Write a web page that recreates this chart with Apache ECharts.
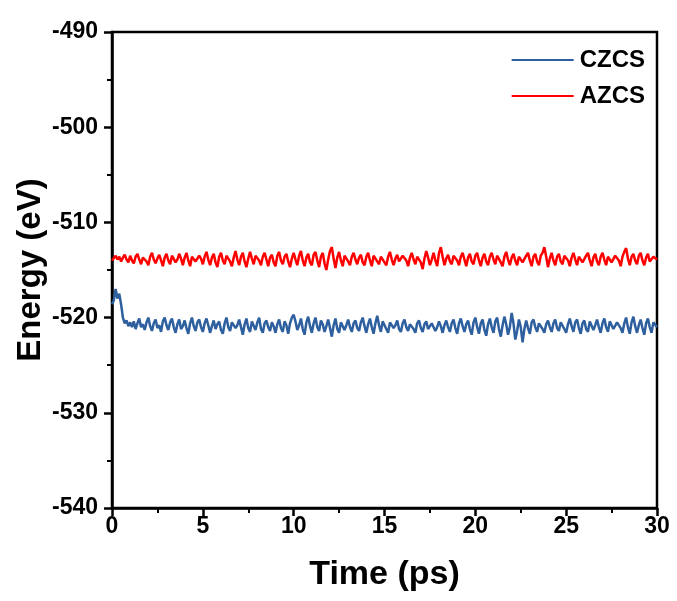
<!DOCTYPE html>
<html>
<head>
<meta charset="utf-8">
<script src="https://cdn.jsdelivr.net/npm/echarts@6/dist/echarts.min.js"></script>
<style>
html,body{margin:0;padding:0;background:#fff;}
#chart{width:677px;height:601px;}
</style>
</head>
<body>
<div id="chart"></div>
<script>
var timeStep = 0.1; // ps between samples
var xTicks = [0, 5, 10, 15, 20, 25, 30];
var yTicks = [-540, -530, -520, -510, -500, -490];
var seriesNames = ['CZCS', 'AZCS'];

var czcs = [
-518.6,-518.2,-517.0,-518.0,-517.5,-518.6,-520.0,-520.6,-520.3,-520.9,
-520.5,-521.0,-520.4,-521.2,-520.6,-520.1,-521.0,-520.7,-521.3,-520.5,
-520.0,-520.9,-521.4,-520.6,-520.2,-521.1,-520.8,-521.5,-520.4,-520.0,
-520.8,-521.3,-520.5,-520.1,-521.0,-521.6,-520.7,-520.2,-521.2,-520.9,
-520.3,-521.1,-521.7,-520.6,-520.0,-520.9,-521.4,-520.5,-520.2,-521.0,
-521.5,-520.6,-520.1,-520.8,-521.6,-520.9,-520.3,-521.2,-520.7,-520.4,
-521.3,-521.7,-520.6,-520.0,-521.0,-521.4,-520.5,-520.3,-521.1,-520.8,
-520.2,-521.0,-521.8,-520.7,-520.1,-521.1,-521.5,-520.4,-520.6,-521.3,
-520.5,-520.0,-521.2,-521.6,-520.6,-520.3,-521.0,-521.4,-520.5,-520.9,
-521.6,-520.7,-520.2,-521.1,-521.5,-520.4,-520.8,-521.7,-520.6,-520.0,
-519.7,-520.4,-521.3,-520.8,-520.1,-521.2,-521.8,-520.5,-519.9,-520.9,
-521.6,-520.6,-520.0,-521.0,-521.4,-520.3,-520.7,-521.5,-520.9,-520.2,
-521.1,-522.0,-520.8,-520.1,-521.2,-521.6,-520.5,-520.4,-521.3,-520.8,
-520.2,-521.0,-521.5,-520.6,-520.3,-521.1,-521.4,-520.5,-520.0,-520.9,
-521.6,-520.7,-520.1,-521.0,-521.7,-520.6,-519.8,-520.8,-521.5,-520.4,
-520.2,-521.2,-521.6,-520.5,-520.4,-521.1,-520.8,-520.3,-521.2,-521.5,
-520.6,-520.2,-521.0,-521.4,-520.7,-520.5,-521.2,-521.6,-520.6,-520.3,
-521.1,-521.5,-520.7,-520.4,-521.2,-521.3,-520.6,-520.5,-521.4,-521.0,
-520.4,-520.9,-521.6,-520.8,-520.3,-521.0,-521.5,-520.6,-520.2,-521.1,
-521.7,-520.6,-520.1,-520.9,-521.5,-520.7,-520.3,-521.2,-521.8,-520.5,
-520.0,-521.0,-521.7,-520.6,-520.2,-521.3,-521.9,-520.7,-520.1,-521.0,
-521.6,-520.4,-520.0,-521.2,-522.0,-520.8,-519.9,-520.7,-521.8,-521.0,
-519.5,-520.6,-522.3,-521.4,-520.2,-521.0,-522.6,-521.2,-520.3,-521.1,
-521.7,-520.5,-520.2,-521.0,-521.5,-520.6,-520.4,-521.2,-521.6,-520.7,
-520.3,-521.0,-521.5,-520.6,-520.2,-521.1,-521.4,-520.5,-520.4,-521.2,
-521.6,-520.7,-520.1,-520.9,-521.5,-520.5,-520.2,-521.1,-521.7,-520.6,
-520.3,-521.2,-521.5,-520.4,-520.5,-521.3,-520.8,-520.2,-521.0,-521.6,
-520.6,-520.1,-521.0,-521.5,-520.4,-520.2,-521.2,-521.4,-520.5,-520.3,
-521.1,-521.6,-520.6,-520.0,-521.0,-521.7,-520.5,-519.9,-520.9,-521.6,
-520.8,-520.2,-521.1,-521.8,-520.6,-520.1,-521.0,-521.6,-520.5,-520.3,
-521.0
];

var azcs = [
-514.0,-513.8,-513.5,-513.9,-513.6,-514.1,-513.7,-513.4,-513.9,-514.2,
-513.5,-514.0,-514.3,-513.6,-513.3,-513.9,-514.4,-513.7,-513.5,-514.1,
-514.5,-513.6,-513.2,-513.9,-514.3,-513.8,-513.4,-514.0,-514.6,-513.7,
-513.3,-514.0,-514.4,-513.5,-513.6,-514.2,-513.9,-513.3,-513.8,-514.5,
-513.7,-513.2,-514.0,-514.6,-513.6,-513.4,-514.1,-514.3,-513.5,-513.8,
-514.4,-513.6,-513.1,-513.9,-514.5,-513.7,-513.3,-514.2,-514.7,-513.6,
-513.2,-514.0,-514.4,-513.5,-513.4,-514.1,-514.6,-513.7,-513.0,-513.9,
-514.5,-513.6,-513.2,-514.1,-514.7,-513.8,-513.1,-513.8,-514.4,-513.5,
-513.3,-514.0,-514.5,-513.6,-513.2,-513.9,-514.6,-513.7,-513.4,-514.2,
-514.6,-513.5,-513.1,-514.0,-514.4,-513.6,-513.3,-514.1,-514.7,-513.8,
-513.2,-513.9,-514.5,-513.5,-513.0,-514.0,-514.6,-513.7,-513.3,-514.2,
-514.5,-513.4,-513.1,-514.0,-514.7,-513.6,-513.2,-514.3,-515.0,-513.9,
-513.0,-512.6,-513.8,-514.8,-513.7,-513.1,-514.0,-514.6,-513.5,-513.3,
-514.1,-514.5,-513.6,-513.2,-513.9,-514.4,-513.7,-513.4,-514.2,-514.5,
-513.6,-513.2,-514.0,-514.6,-513.5,-513.3,-514.1,-514.4,-513.6,-513.4,
-514.2,-514.5,-513.6,-513.1,-513.9,-514.5,-513.8,-513.4,-514.1,-514.3,
-513.5,-513.3,-514.0,-514.6,-513.7,-513.2,-513.9,-514.4,-513.6,-513.5,
-514.2,-514.9,-513.8,-513.0,-513.7,-514.5,-513.9,-513.2,-514.0,-514.6,
-513.2,-512.6,-513.6,-514.5,-513.8,-513.4,-514.1,-514.4,-513.5,-513.3,
-514.0,-514.5,-513.6,-513.2,-513.9,-514.6,-513.7,-513.3,-514.1,-514.4,
-513.5,-513.2,-514.0,-514.6,-513.7,-513.3,-514.1,-514.5,-513.6,-513.2,
-513.9,-514.4,-513.5,-513.3,-514.2,-514.6,-513.6,-513.1,-513.9,-514.5,
-513.7,-513.3,-514.0,-514.5,-513.6,-513.4,-514.2,-514.4,-513.5,-513.2,
-514.0,-514.6,-513.6,-513.3,-514.1,-514.5,-513.5,-513.2,-512.6,-513.6,
-514.7,-513.8,-513.2,-514.0,-514.5,-513.6,-513.3,-514.1,-514.4,-513.5,
-513.3,-514.0,-514.6,-513.7,-513.2,-513.9,-514.5,-513.6,-513.4,-514.2,
-514.4,-513.5,-513.2,-514.0,-514.6,-513.7,-513.3,-514.1,-514.5,-513.6,
-513.2,-513.9,-514.5,-513.6,-513.4,-514.2,-514.4,-513.5,-513.3,-514.0,
-514.6,-513.6,-513.1,-512.7,-513.8,-514.5,-513.6,-513.3,-514.0,-514.4,
-513.5,-513.2,-514.0,-514.5,-513.7,-513.3,-514.1,-514.3,-513.6,-513.4,
-513.9
];

function pairs(vals) {
  return vals.map(function (v, i) { return [Math.round(i * timeStep * 10) / 10, v]; });
}

var FONT = '"Liberation Sans", Arial, sans-serif';
var chart = echarts.init(document.getElementById('chart'), null, {renderer: 'canvas'});
chart.setOption({
  animation: false,
  backgroundColor: '#ffffff',
  grid: {left: 112, right: 20, top: 32, bottom: 93, show: true, borderColor: '#000', borderWidth: 2.5, backgroundColor: 'transparent'},
  legend: {
    data: seriesNames,
    orient: 'vertical',
    right: 27,
    top: 43,
    icon: 'rect',
    itemWidth: 62,
    itemHeight: 2,
    itemGap: 12,
    textStyle: {fontFamily: FONT, fontWeight: 'bold', fontSize: 24, color: '#000', lineHeight: 22, padding: [0, 0, 0, 1]}
  },
  xAxis: {
    type: 'value',
    min: xTicks[0], max: xTicks[xTicks.length - 1], interval: 5,
    name: 'Time (ps)', nameLocation: 'middle', nameGap: 50,
    nameMoveOverlap: false,
    nameTextStyle: {fontFamily: FONT, fontWeight: 'bold', fontSize: 34, color: '#000'},
    axisLine: {lineStyle: {color: '#000', width: 2.5}},
    axisTick: {inside: false, length: 8, lineStyle: {color: '#000', width: 2.5}},
    minorTick: {show: true, splitNumber: 2, length: 5, lineStyle: {color: '#000', width: 2}},
    splitLine: {show: false},
    axisLabel: {fontFamily: FONT, fontWeight: 'bold', fontSize: 23, color: '#000', margin: 7}
  },
  yAxis: {
    type: 'value',
    min: yTicks[0], max: yTicks[yTicks.length - 1], interval: 10,
    name: 'Energy (eV)', nameLocation: 'middle', nameGap: 65,
    nameMoveOverlap: false,
    nameTextStyle: {fontFamily: FONT, fontWeight: 'bold', fontSize: 33, color: '#000'},
    axisLine: {lineStyle: {color: '#000', width: 2.5}},
    axisTick: {inside: false, length: 8, lineStyle: {color: '#000', width: 2.5}},
    minorTick: {show: true, splitNumber: 2, length: 5, lineStyle: {color: '#000', width: 2}},
    splitLine: {show: false},
    axisLabel: {fontFamily: FONT, fontWeight: 'bold', fontSize: 23, color: '#000', margin: 14}
  },
  series: [
    {name: seriesNames[0], type: 'line', data: pairs(czcs), symbol: 'none', lineStyle: {color: '#2e5f9e', width: 2.5}, itemStyle: {color: '#2e5f9e'}},
    {name: seriesNames[1], type: 'line', data: pairs(azcs), symbol: 'none', lineStyle: {color: '#ff0000', width: 2.5}, itemStyle: {color: '#ff0000'}}
  ]
});
</script>
</body>
</html>
